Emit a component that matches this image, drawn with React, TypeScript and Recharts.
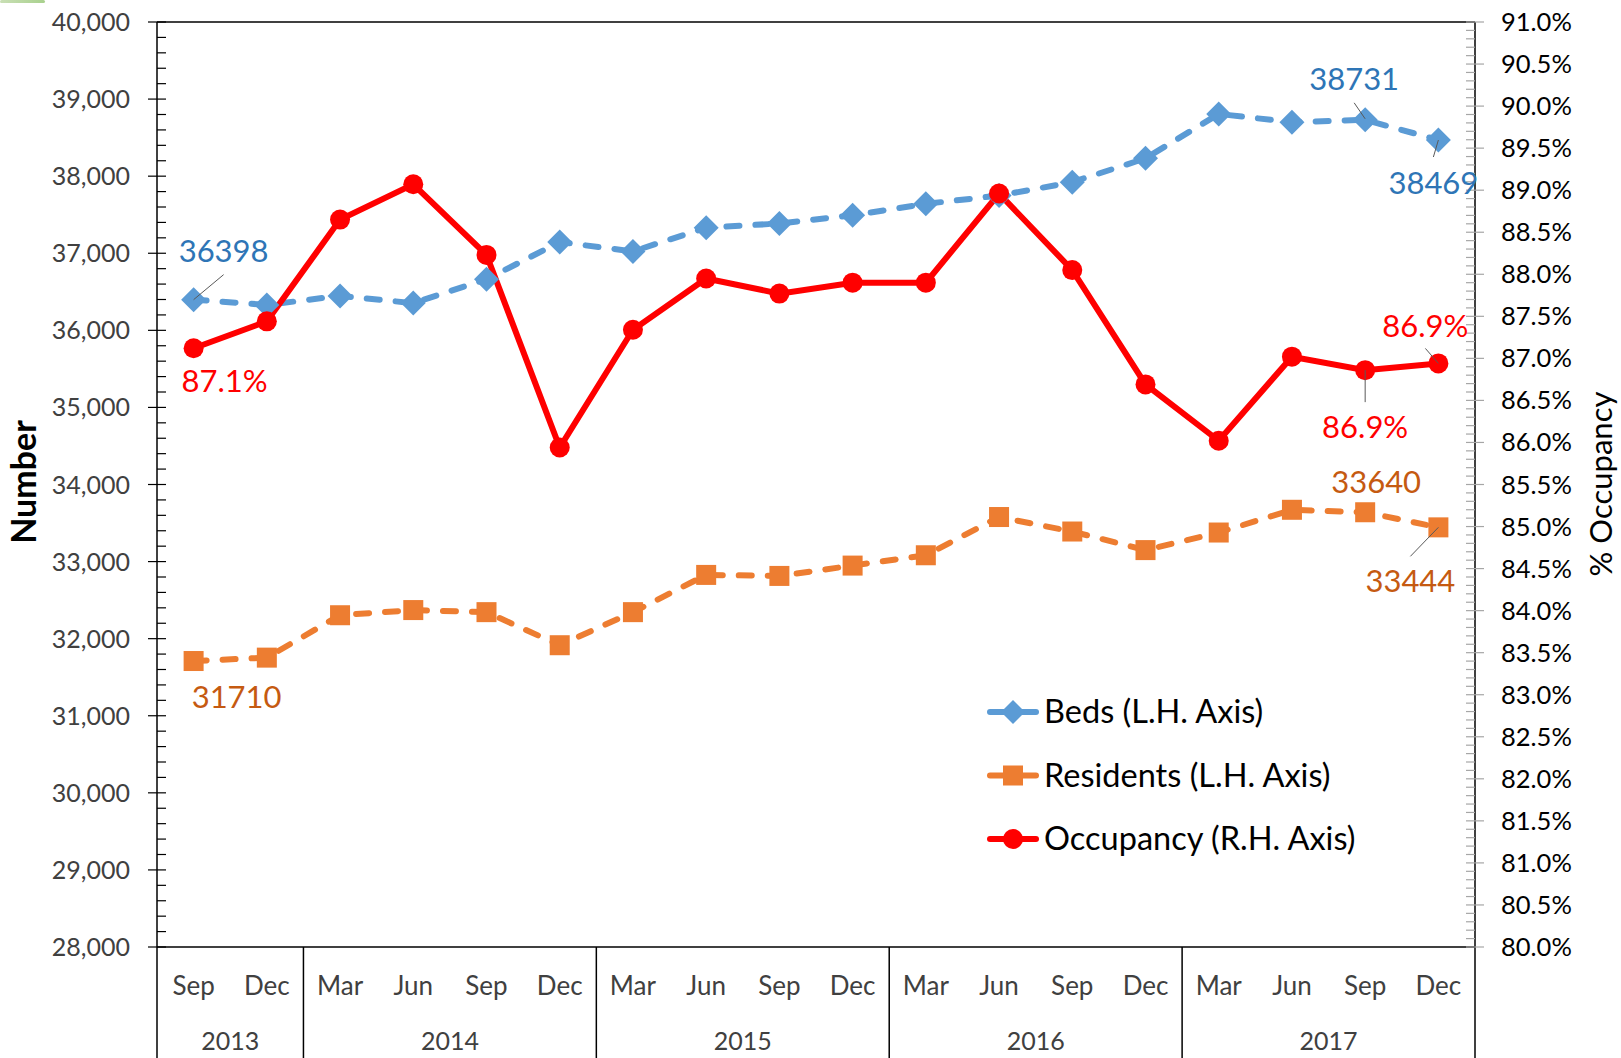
import React from 'react';
import { ComposedChart, Line, XAxis, YAxis, Legend, LabelList, ReferenceLine, Label } from 'recharts';

const months = ['Sep', 'Dec', 'Mar', 'Jun', 'Sep', 'Dec', 'Mar', 'Jun', 'Sep', 'Dec', 'Mar', 'Jun', 'Sep', 'Dec', 'Mar', 'Jun', 'Sep', 'Dec'];
const years = ['2013', '2013', '2014', '2014', '2014', '2014', '2015', '2015', '2015', '2015', '2016', '2016', '2016', '2016', '2017', '2017', '2017', '2017'];
const beds = [36398, 36330, 36447, 36353, 36662, 37145, 37024, 37332, 37386, 37493, 37641, 37748, 37922, 38231, 38807, 38700, 38731, 38469];
const residents = [31710, 31754, 32304, 32371, 32344, 31915, 32344, 32827, 32814, 32948, 33082, 33578, 33390, 33149, 33377, 33672, 33640, 33444];
const occupancy = [87.12, 87.44, 88.65, 89.07, 88.23, 85.94, 87.34, 87.95, 87.77, 87.9, 87.9, 88.96, 88.05, 86.69, 86.02, 87.02, 86.86, 86.94];

const leftTicks = Array.from({ length: 61 }, (_, i) => 28000 + i * 200);
const rightTicks = Array.from({ length: 111 }, (_, i) => (800 + i) / 10);

const seriesNames = ['Beds (L.H. Axis)', 'Residents (L.H. Axis)', 'Occupancy (R.H. Axis)'];

const data = months.map((m, i) => ({
  key: `${m} ${years[i]}`,
  beds: beds[i],
  residents: residents[i],
  occupancy: occupancy[i],
}));

const FONT = 'Lato, "Open Sans", sans-serif';
const BLUE = '#5B9BD5';
const ORANGE = '#ED7D31';
const RED = '#FF0000';

// label placement (styling only): offsets of text center relative to the point, leader lines
const bedsLabelCfg: Record<number, any> = {
  0: { dx: 30, dy: -49, leader: [0, 0, 30, -25] },
  16: { dx: -11, dy: -41, leader: [-11, -17, 0, -1] },
  17: { dx: -5, dy: 43, leader: [0, 0, -5, 17] },
};
const resLabelCfg: Record<number, any> = {
  0: { dx: 43, dy: 36 },
  16: { dx: 11, dy: -30 },
  17: { dx: -28, dy: 54, leader: [0, 0, -28, 29] },
};
const occLabelCfg: Record<number, any> = {
  0: { dx: 31, dy: 33 },
  16: { dx: 0, dy: 57, leader: [0, 0, 0, 32] },
  17: { dx: -13, dy: -37, leader: [-13, -15, 0, 0] },
};

const makeLabel = (cfg: Record<number, any>, color: string, fmt: (v: number) => string) => (props: any) => {
  const { index, value } = props;
  const c = cfg[index];
  if (!c) return null;
  const vb = props.viewBox || {};
  const x = (vb.x ?? props.x) + (vb.width ?? 0) / 2;
  const y = (vb.y ?? props.y) + (vb.height ?? 0) / 2;
  return (
    <g key={`lbl-${index}`}>
      {c.leader && (
        <line
          x1={x + c.leader[0]}
          y1={y + c.leader[1]}
          x2={x + c.leader[2]}
          y2={y + c.leader[3]}
          stroke="#595959"
          strokeWidth={1}
        />
      )}
      <text x={x + c.dx} y={y + c.dy + 11} textAnchor="middle" fontFamily={FONT} fontSize={31} fill={color}>
        {fmt(value)}
      </text>
    </g>
  );
};

const Diamond = (p: any) => {
  const { cx, cy, index } = p;
  if (cx == null || cy == null) return <g key={`dm-${index}`} />;
  const r = 12.5;
  return <path key={`dm-${index}`} d={`M${cx},${cy - r}L${cx + r},${cy}L${cx},${cy + r}L${cx - r},${cy}Z`} fill={BLUE} />;
};
const Square = (p: any) => {
  const { cx, cy, index } = p;
  if (cx == null || cy == null) return <g key={`sq-${index}`} />;
  const h = 10;
  return <rect key={`sq-${index}`} x={cx - h} y={cy - h} width={2 * h} height={2 * h} fill={ORANGE} />;
};
const Circle = (p: any) => {
  const { cx, cy, index } = p;
  if (cx == null || cy == null) return <g key={`ci-${index}`} />;
  return <circle key={`ci-${index}`} cx={cx} cy={cy} r={10} fill={RED} />;
};

const LeftTick = (p: any) => {
  const { x, y, payload } = p;
  const v = payload.value;
  const major = v % 1000 === 0;
  return (
    <g>
      <line x1={major ? x - 9 : x} x2={x + 9} y1={y} y2={y} stroke="#000" strokeWidth={1.2} />
      {major && (
        <text x={x - 27} y={y + 9} textAnchor="end" fontFamily={FONT} fontSize={25} fill="#404040">
          {v.toLocaleString('en-US')}
        </text>
      )}
    </g>
  );
};

const RightTick = (p: any) => {
  const { x, y, payload } = p;
  const v = payload.value;
  const major = Math.round(v * 10) % 5 === 0;
  return (
    <g>
      <line x1={x - 9} x2={major ? x + 9 : x} y1={y} y2={y} stroke="#A6A6A6" strokeWidth={1.2} />
      {major && (
        <text x={x + 26} y={y + 9} textAnchor="start" fontFamily={FONT} fontSize={25.5} fill="#000">
          {v.toFixed(1) + '%'}
        </text>
      )}
    </g>
  );
};

const XTick = (p: any) => {
  const { x, y, payload } = p;
  const i = payload.index;
  const off = payload.offset || 1318 / 18 / 2;
  const yr = years[i];
  const isFirst = i === 0 || years[i - 1] !== yr;
  const n = years.filter((t) => t === yr).length;
  return (
    <g>
      <text x={x} y={y + 48} textAnchor="middle" fontFamily={FONT} fontSize={26} fill="#404040">
        {months[i]}
      </text>
      {isFirst && (
        <text x={x - off + n * off} y={y + 103} textAnchor="middle" fontFamily={FONT} fontSize={25} fill="#404040">
          {yr}
        </text>
      )}
      {i === 0 && <line x1={x - off} x2={x - off} y1={y} y2={y + 111} stroke="#000" strokeWidth={1.5} />}
      {months[i] === 'Dec' && <line x1={x + off} x2={x + off} y1={y} y2={y + 111} stroke="#000" strokeWidth={1.5} />}
    </g>
  );
};

const legendStyles = [
  { color: BLUE, marker: 'diamond' },
  { color: ORANGE, marker: 'square' },
  { color: RED, marker: 'circle' },
];

const LegendContent = () => (
  <svg width={450} height={190} style={{ display: 'block' }}>
    {seriesNames.map((name, i) => {
      const cy = 27 + i * 63.5;
      const s = legendStyles[i];
      const mx = 28;
      return (
        <g key={name}>
          <line x1={5} x2={51} y1={cy} y2={cy} stroke={s.color} strokeWidth={6} strokeLinecap="round" />
          {s.marker === 'diamond' && <path d={`M${mx},${cy - 12}L${mx + 12},${cy}L${mx},${cy + 12}L${mx - 12},${cy}Z`} fill={s.color} />}
          {s.marker === 'square' && <rect x={mx - 10} y={cy - 10} width={20} height={20} fill={s.color} />}
          {s.marker === 'circle' && <circle cx={mx} cy={cy} r={10} fill={s.color} />}
          <text x={59} y={cy + 11} fontFamily={FONT} fontSize={32.5} fill="#000">
            {name}
          </text>
        </g>
      );
    })}
  </svg>
);

export default function App() {
  return (
    <div style={{ position: 'absolute', left: 0, top: 0, width: 1621, height: 1058, background: '#fff' }}>
      <div style={{ position: 'absolute', left: 0, top: 0, width: 45, height: 3, background: 'linear-gradient(90deg, #c9dfb5, #a9d18e)', borderRadius: 2 }} />
      <ComposedChart width={1621} height={1058} data={data} margin={{ top: 22, right: 0, bottom: 0, left: 0 }}>
        <XAxis
          dataKey="key"
          xAxisId={0}
          scale="band"
          height={111}
          interval={0}
          tickLine={false}
          tickSize={0}
          tickMargin={0}
          axisLine={{ stroke: '#000', strokeWidth: 1.5 }}
          tick={XTick}
        />
        <YAxis
          yAxisId="left"
          width={157}
          domain={[28000, 40000]}
          ticks={leftTicks}
          interval={0}
          tickLine={false}
          tickSize={0}
          tickMargin={0}
          axisLine={{ stroke: '#000', strokeWidth: 1.5 }}
          tick={LeftTick}
          allowDataOverflow
        >
          <Label
            content={() => (
              <text transform="translate(36,482) rotate(-90)" textAnchor="middle" fontFamily={FONT} fontWeight="bold" fontSize={34} fill="#000">
                Number
              </text>
            )}
          />
        </YAxis>
        <YAxis
          yAxisId="right"
          orientation="right"
          width={146}
          domain={[80, 91]}
          ticks={rightTicks}
          interval={0}
          tickLine={false}
          tickSize={0}
          tickMargin={0}
          axisLine={{ stroke: '#000', strokeWidth: 1.5 }}
          tick={RightTick}
          allowDataOverflow
        >
          <Label
            content={() => (
              <text transform="translate(1612,484) rotate(-90)" textAnchor="middle" fontFamily={FONT} fontSize={31} fill="#000">
                % Occupancy
              </text>
            )}
          />
        </YAxis>
        <ReferenceLine yAxisId="left" y={40000} stroke="#000" strokeWidth={1.5} />
        <Legend
          layout="vertical"
          align="center"
          verticalAlign="middle"
          content={LegendContent}
          wrapperStyle={{ left: 985, top: 685, width: 450, height: 190 }}
        />
        <Line
          yAxisId="left"
          dataKey="beds"
          name={seriesNames[0]}
          stroke={BLUE}
          strokeWidth={6}
          strokeDasharray="13 16"
          strokeLinecap="round"
          dot={Diamond}
          activeDot={false}
          isAnimationActive={false}
        >
          <LabelList dataKey="beds" content={makeLabel(bedsLabelCfg, '#2E75B6', (v) => String(v))} />
        </Line>
        <Line
          yAxisId="left"
          dataKey="residents"
          name={seriesNames[1]}
          stroke={ORANGE}
          strokeWidth={6}
          strokeDasharray="13 16"
          strokeLinecap="round"
          dot={Square}
          activeDot={false}
          isAnimationActive={false}
        >
          <LabelList dataKey="residents" content={makeLabel(resLabelCfg, '#C55A11', (v) => String(v))} />
        </Line>
        <Line
          yAxisId="right"
          dataKey="occupancy"
          name={seriesNames[2]}
          stroke={RED}
          strokeWidth={6}
          dot={Circle}
          activeDot={false}
          isAnimationActive={false}
        >
          <LabelList dataKey="occupancy" content={makeLabel(occLabelCfg, RED, (v) => v.toFixed(1) + '%')} />
        </Line>
      </ComposedChart>
    </div>
  );
}
